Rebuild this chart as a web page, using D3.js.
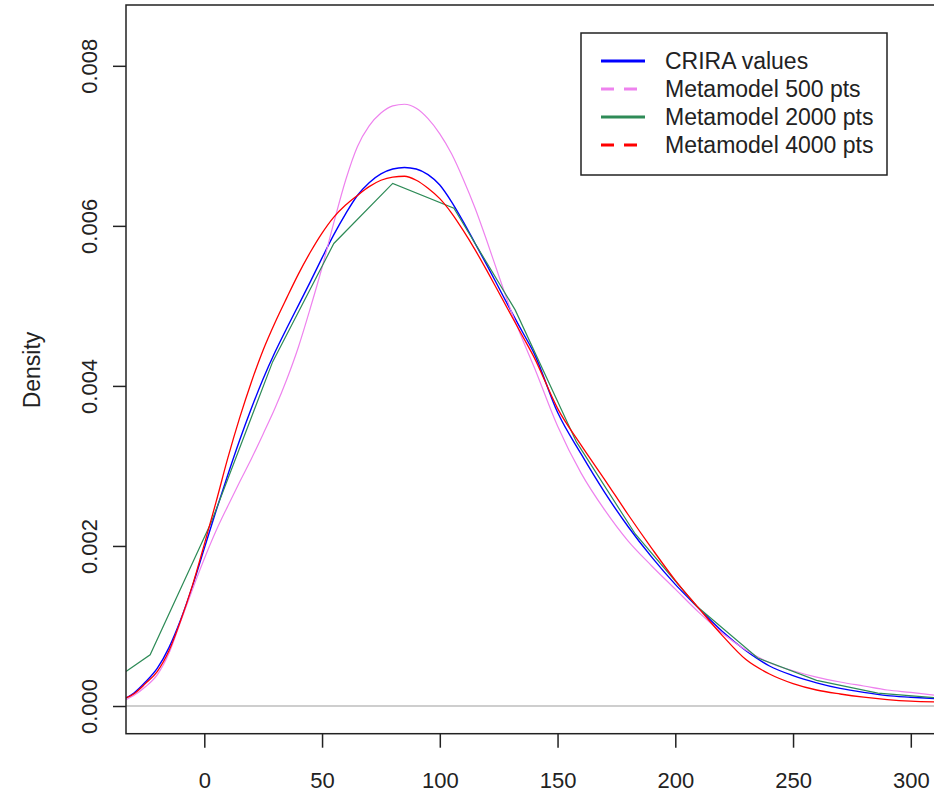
<!DOCTYPE html>
<meta charset="utf-8">
<script src="https://d3js.org/d3.v7.min.js"></script>
<style>
  body { margin: 0; background: #fff; }
  text { font-family: "Liberation Sans", Arial, sans-serif; fill: #222; }
</style>
<div id="my_dataviz"></div>

<script>
  var xGrid = [-33.25, -30, -25, -20, -15, -10, -5, 0, 5, 10, 15, 20, 25, 30, 35, 40, 45, 50, 55, 60,
    65, 70, 75, 80, 85, 90, 95, 100, 105, 110, 115, 120, 125, 130, 135, 140, 150, 160, 170, 180,
    190, 200, 210, 220, 230, 240, 250, 260, 270, 280, 290, 300, 312];

  var criraValues = [0.0001, 0.00016, 0.0003, 0.00047, 0.00073, 0.00108, 0.0015, 0.00197, 0.00244, 0.00289,
    0.00332, 0.00372, 0.00409, 0.00442, 0.00472, 0.00501, 0.0053, 0.0056, 0.00589, 0.00615,
    0.00638, 0.00654, 0.00665, 0.00671, 0.00673, 0.00671, 0.00664, 0.00651, 0.0063, 0.00605,
    0.00578, 0.00551, 0.00523, 0.00495, 0.00468, 0.00441, 0.00367, 0.00315, 0.00267, 0.00224,
    0.00186, 0.00152, 0.00122, 0.00093, 0.00069, 0.0005, 0.00038, 0.00029, 0.00022, 0.00017,
    0.00013, 0.00011, 0.00009];

  var meta500Values = [0.00008, 0.00013, 0.00024, 0.00039, 0.00066, 0.00106, 0.00146, 0.00184, 0.00219, 0.0025,
    0.0028, 0.00309, 0.0034, 0.00372, 0.00408, 0.00449, 0.00497, 0.00548, 0.00604, 0.00657,
    0.00699, 0.00725, 0.00741, 0.0075, 0.00752, 0.00747, 0.00734, 0.00715, 0.0069, 0.00658,
    0.00622, 0.00581, 0.00538, 0.00496, 0.00459, 0.00424, 0.0035, 0.00291, 0.00245, 0.00206,
    0.00175, 0.00146, 0.00117, 0.00091, 0.0007, 0.00054, 0.00044, 0.00036, 0.0003, 0.00025,
    0.0002, 0.00017, 0.00013];

  var meta4000Values = [0.0001, 0.00015, 0.00028, 0.00043, 0.00069, 0.00107, 0.00151, 0.00202, 0.00255, 0.0031,
    0.0036, 0.00405, 0.00445, 0.00479, 0.0051, 0.0054, 0.00567, 0.00591, 0.00611, 0.00626,
    0.00638, 0.00649, 0.00657, 0.00661, 0.00662, 0.00657, 0.00647, 0.00634, 0.00616, 0.00594,
    0.0057, 0.00544, 0.00517, 0.0049, 0.00463, 0.00436, 0.00372, 0.00326, 0.00283, 0.00239,
    0.00197, 0.00157, 0.00122, 0.00088, 0.00058, 0.0004, 0.00028, 0.0002, 0.00015, 0.00011,
    0.00008, 0.00006, 0.00005];

  // the 2000 pts curve is coarse, joined by straight segments
  var meta2000X = [-33.25, -23, 3, 29, 55, 80, 106, 132, 158, 183, 209, 235, 260, 286, 312];
  var meta2000Values = [0.00043, 0.00064, 0.0023, 0.0043, 0.00578, 0.00653, 0.00622, 0.00495, 0.0033, 0.00215,
    0.00125, 0.0006, 0.00032, 0.00016, 0.0001];

  var xTicks = [0, 50, 100, 150, 200, 250, 300];
  var yTicks = [0, 0.002, 0.004, 0.006, 0.008];

  var legendLabels = ["CRIRA values", "Metamodel 500 pts", "Metamodel 2000 pts", "Metamodel 4000 pts"];
  var legendColors = ["#0000ff", "#ee82ee", "#2e8b57", "#ff0000"];
  var legendDash = ["none", "13,10", "none", "13,10"];

  var W = 934, H = 794;
  // plot box; the right edge runs past the window like in the original
  var box = { left: 126, top: 5, right: 940, bottom: 733.7 };

  var svg = d3.select("#my_dataviz")
    .append("svg")
    .attr("width", W)
    .attr("height", H);

  var x = d3.scaleLinear().domain([-33.25, 312.4]).range([box.left, box.right]);
  var y = d3.scaleLinear().domain([-0.000346, 0.00876]).range([box.bottom, box.top]);

  svg.append("clipPath").attr("id", "plotclip")
    .append("rect")
    .attr("x", box.left).attr("y", box.top)
    .attr("width", box.right - box.left).attr("height", box.bottom - box.top);

  // grey zero line
  svg.append("line")
    .attr("x1", box.left).attr("x2", box.right)
    .attr("y1", y(0)).attr("y2", y(0))
    .attr("stroke", "#bebebe")
    .attr("stroke-width", 1.5);

  var plot = svg.append("g").attr("clip-path", "url(#plotclip)");

  function smooth(vals) {
    return d3.line()
      .x(function (d, i) { return x(xGrid[i]); })
      .y(function (d) { return y(d); })
      .curve(d3.curveMonotoneX)(vals);
  }

  plot.append("path").attr("d", smooth(criraValues))
    .attr("fill", "none").attr("stroke", legendColors[0]).attr("stroke-width", 1.4);
  plot.append("path").attr("d", smooth(meta500Values))
    .attr("fill", "none").attr("stroke", legendColors[1]).attr("stroke-width", 1.2);
  plot.append("path")
    .attr("d", d3.line()
      .x(function (d, i) { return x(meta2000X[i]); })
      .y(function (d) { return y(d); })(meta2000Values))
    .attr("fill", "none").attr("stroke", legendColors[2]).attr("stroke-width", 1.2);
  plot.append("path").attr("d", smooth(meta4000Values))
    .attr("fill", "none").attr("stroke", legendColors[3]).attr("stroke-width", 1.3);

  // box round the plot
  svg.append("rect")
    .attr("x", box.left).attr("y", box.top)
    .attr("width", box.right - box.left).attr("height", box.bottom - box.top)
    .attr("fill", "none")
    .attr("stroke", "#222")
    .attr("stroke-width", 1.5);

  // X axis
  var xAxis = svg.append("g")
    .attr("transform", "translate(0," + box.bottom + ")")
    .call(d3.axisBottom(x).tickValues(xTicks).tickSize(14).tickFormat(d3.format("d")));
  xAxis.select(".domain").remove();
  xAxis.selectAll("line").attr("stroke", "#222").attr("stroke-width", 1.5);
  xAxis.selectAll("text")
    .attr("y", 54).attr("dy", 0)
    .style("font-size", "22px");

  // Y axis, labels turned like R does
  var yAxis = svg.append("g")
    .attr("transform", "translate(" + box.left + ",0)")
    .call(d3.axisLeft(y).tickValues(yTicks).tickSize(13).tickFormat(d3.format(".3f")));
  yAxis.select(".domain").remove();
  yAxis.selectAll("line").attr("stroke", "#222").attr("stroke-width", 1.5);
  yAxis.selectAll("text")
    .attr("x", 0).attr("y", -29.5).attr("dy", 0)
    .attr("transform", "rotate(-90)")
    .style("text-anchor", "middle")
    .style("font-size", "22px");

  // Y axis label
  svg.append("text")
    .attr("transform", "translate(40,370) rotate(-90)")
    .attr("text-anchor", "middle")
    .style("font-size", "23px")
    .text("Density");

  // legend
  var legend = svg.append("g").attr("transform", "translate(581,33)");
  legend.append("rect")
    .attr("width", 306).attr("height", 142)
    .attr("fill", "#fff")
    .attr("stroke", "#222")
    .attr("stroke-width", 1.5);

  var rows = legend.selectAll("g.row")
    .data(legendLabels)
    .enter()
    .append("g")
    .attr("class", "row")
    .attr("transform", function (d, i) { return "translate(0," + (28 + i * 28) + ")"; });

  rows.append("line")
    .attr("x1", 20).attr("x2", 64)
    .attr("stroke", function (d, i) { return legendColors[i]; })
    .attr("stroke-dasharray", function (d, i) { return legendDash[i]; })
    .attr("stroke-width", 3);

  rows.append("text")
    .attr("x", 84)
    .attr("dy", "0.36em")
    .style("font-size", "23px")
    .text(function (d) { return d; });
</script>
